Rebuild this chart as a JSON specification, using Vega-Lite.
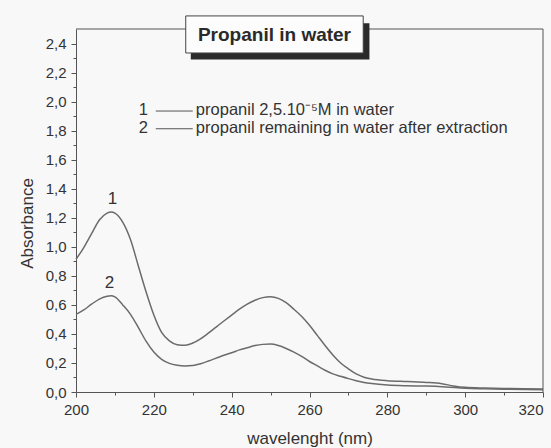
{
  "$schema": "https://vega.github.io/schema/vega-lite/v6.json",
  "width": 467,
  "height": 363,
  "autosize": {"type": "none"},
  "padding": {"left": 76, "top": 29, "right": 8, "bottom": 56},
  "background": "#f8f8f8",
  "resolve": {"axis": {"x": "independent", "y": "independent"}},
  "config": {
    "view": {"stroke": null},
    "font": "Liberation Sans",
    "locale": {"number": {"decimal": ",", "thousands": ".", "grouping": [3], "currency": ["", ""]}},
    "axis": {
      "labelOverlap": false, "labelBound": false, "labelFlush": false, "grid": false,
      "domainColor": "#555", "tickColor": "#555", "labelColor": "#333", "titleColor": "#333",
      "labelFontSize": 15, "labelPadding": 5, "titleFontSize": 17, "titleFontWeight": "normal"
    }
  },
  "datasets": {
    "spectra": [
      {"series": "1", "wavelength": 200, "absorbance": 0.914},
      {"series": "1", "wavelength": 202, "absorbance": 0.995},
      {"series": "1", "wavelength": 204, "absorbance": 1.09},
      {"series": "1", "wavelength": 206, "absorbance": 1.185},
      {"series": "1", "wavelength": 208, "absorbance": 1.232},
      {"series": "1", "wavelength": 209, "absorbance": 1.24},
      {"series": "1", "wavelength": 210, "absorbance": 1.232},
      {"series": "1", "wavelength": 212, "absorbance": 1.17},
      {"series": "1", "wavelength": 214, "absorbance": 1.05},
      {"series": "1", "wavelength": 216, "absorbance": 0.87},
      {"series": "1", "wavelength": 218, "absorbance": 0.69},
      {"series": "1", "wavelength": 220, "absorbance": 0.53},
      {"series": "1", "wavelength": 222, "absorbance": 0.41},
      {"series": "1", "wavelength": 224, "absorbance": 0.352},
      {"series": "1", "wavelength": 226, "absorbance": 0.326},
      {"series": "1", "wavelength": 228, "absorbance": 0.322},
      {"series": "1", "wavelength": 230, "absorbance": 0.337},
      {"series": "1", "wavelength": 232, "absorbance": 0.366},
      {"series": "1", "wavelength": 234, "absorbance": 0.405},
      {"series": "1", "wavelength": 236, "absorbance": 0.447},
      {"series": "1", "wavelength": 238, "absorbance": 0.489},
      {"series": "1", "wavelength": 240, "absorbance": 0.53},
      {"series": "1", "wavelength": 242, "absorbance": 0.57},
      {"series": "1", "wavelength": 244, "absorbance": 0.605},
      {"series": "1", "wavelength": 246, "absorbance": 0.632},
      {"series": "1", "wavelength": 248, "absorbance": 0.65},
      {"series": "1", "wavelength": 250, "absorbance": 0.656},
      {"series": "1", "wavelength": 252, "absorbance": 0.645},
      {"series": "1", "wavelength": 254, "absorbance": 0.615},
      {"series": "1", "wavelength": 256, "absorbance": 0.57},
      {"series": "1", "wavelength": 258, "absorbance": 0.52},
      {"series": "1", "wavelength": 260, "absorbance": 0.46},
      {"series": "1", "wavelength": 262, "absorbance": 0.39},
      {"series": "1", "wavelength": 264, "absorbance": 0.32},
      {"series": "1", "wavelength": 266, "absorbance": 0.255},
      {"series": "1", "wavelength": 268, "absorbance": 0.2},
      {"series": "1", "wavelength": 270, "absorbance": 0.16},
      {"series": "1", "wavelength": 272, "absorbance": 0.125},
      {"series": "1", "wavelength": 274, "absorbance": 0.102},
      {"series": "1", "wavelength": 276, "absorbance": 0.09},
      {"series": "1", "wavelength": 280, "absorbance": 0.078},
      {"series": "1", "wavelength": 285, "absorbance": 0.072},
      {"series": "1", "wavelength": 290, "absorbance": 0.066},
      {"series": "1", "wavelength": 294, "absorbance": 0.057},
      {"series": "1", "wavelength": 297, "absorbance": 0.042},
      {"series": "1", "wavelength": 300, "absorbance": 0.032},
      {"series": "1", "wavelength": 305, "absorbance": 0.027},
      {"series": "1", "wavelength": 310, "absorbance": 0.024},
      {"series": "1", "wavelength": 315, "absorbance": 0.022},
      {"series": "1", "wavelength": 320, "absorbance": 0.021},
      {"series": "2", "wavelength": 200, "absorbance": 0.535},
      {"series": "2", "wavelength": 202, "absorbance": 0.565},
      {"series": "2", "wavelength": 204, "absorbance": 0.605},
      {"series": "2", "wavelength": 206, "absorbance": 0.64},
      {"series": "2", "wavelength": 208, "absorbance": 0.66},
      {"series": "2", "wavelength": 209, "absorbance": 0.663},
      {"series": "2", "wavelength": 210, "absorbance": 0.655},
      {"series": "2", "wavelength": 212, "absorbance": 0.6},
      {"series": "2", "wavelength": 214, "absorbance": 0.535},
      {"series": "2", "wavelength": 216, "absorbance": 0.445},
      {"series": "2", "wavelength": 218, "absorbance": 0.35},
      {"series": "2", "wavelength": 220, "absorbance": 0.275},
      {"series": "2", "wavelength": 222, "absorbance": 0.225},
      {"series": "2", "wavelength": 224, "absorbance": 0.197},
      {"series": "2", "wavelength": 226, "absorbance": 0.184},
      {"series": "2", "wavelength": 228, "absorbance": 0.179},
      {"series": "2", "wavelength": 230, "absorbance": 0.182},
      {"series": "2", "wavelength": 232, "absorbance": 0.195},
      {"series": "2", "wavelength": 234, "absorbance": 0.213},
      {"series": "2", "wavelength": 236, "absorbance": 0.233},
      {"series": "2", "wavelength": 238, "absorbance": 0.253},
      {"series": "2", "wavelength": 240, "absorbance": 0.27},
      {"series": "2", "wavelength": 242, "absorbance": 0.29},
      {"series": "2", "wavelength": 244, "absorbance": 0.305},
      {"series": "2", "wavelength": 246, "absorbance": 0.32},
      {"series": "2", "wavelength": 248, "absorbance": 0.328},
      {"series": "2", "wavelength": 250, "absorbance": 0.33},
      {"series": "2", "wavelength": 252, "absorbance": 0.32},
      {"series": "2", "wavelength": 254, "absorbance": 0.3},
      {"series": "2", "wavelength": 256, "absorbance": 0.275},
      {"series": "2", "wavelength": 258, "absorbance": 0.245},
      {"series": "2", "wavelength": 260, "absorbance": 0.21},
      {"series": "2", "wavelength": 262, "absorbance": 0.18},
      {"series": "2", "wavelength": 264, "absorbance": 0.15},
      {"series": "2", "wavelength": 266, "absorbance": 0.125},
      {"series": "2", "wavelength": 268, "absorbance": 0.108},
      {"series": "2", "wavelength": 270, "absorbance": 0.092},
      {"series": "2", "wavelength": 272, "absorbance": 0.078},
      {"series": "2", "wavelength": 274, "absorbance": 0.066},
      {"series": "2", "wavelength": 276, "absorbance": 0.058},
      {"series": "2", "wavelength": 280, "absorbance": 0.048},
      {"series": "2", "wavelength": 285, "absorbance": 0.043},
      {"series": "2", "wavelength": 290, "absorbance": 0.041},
      {"series": "2", "wavelength": 295, "absorbance": 0.035},
      {"series": "2", "wavelength": 300, "absorbance": 0.026},
      {"series": "2", "wavelength": 305, "absorbance": 0.022},
      {"series": "2", "wavelength": 310, "absorbance": 0.019},
      {"series": "2", "wavelength": 320, "absorbance": 0.015}
    ]
  },
  "layer": [
    {
      "data": {"name": "spectra"},
      "mark": {"type": "line", "interpolate": "monotone", "color": "#6b6b6b", "strokeWidth": 1.5},
      "encoding": {
        "x": {
          "field": "wavelength", "type": "quantitative",
          "scale": {"domain": [200, 320], "nice": false, "zero": false},
          "axis": {
            "title": "wavelenght (nm)",
            "orient": "bottom",
            "values": [200, 210, 220, 230, 240, 250, 260, 270, 280, 290, 300, 310, 320],
            "labelOverlap": false,
            "labelExpr": "datum.value % 20 == 0 ? datum.label : ''",
            "labelAlign": {"condition": {"test": "datum.value == 320", "value": "right"}, "value": "center"},
            "tickSize": {"condition": {"test": "datum.value % 20 == 0", "value": 5}, "value": 3},
            "titleBaseline": "alphabetic", "titleY": 51
          }
        },
        "y": {
          "field": "absorbance", "type": "quantitative",
          "scale": {"domain": [0, 2.5], "nice": false},
          "axis": {
            "title": "Absorbance",
            "orient": "left",
            "format": ".1f",
            "values": [0, 0.1, 0.2, 0.3, 0.4, 0.5, 0.6, 0.7, 0.8, 0.9, 1, 1.1, 1.2, 1.3, 1.4, 1.5, 1.6, 1.7, 1.8, 1.9, 2, 2.1, 2.2, 2.3, 2.4],
            "labelOverlap": false,
            "labelExpr": "abs(round(datum.value * 10) % 2) < 0.5 ? datum.label : ''",
            "tickSize": {"condition": {"test": "abs(round(datum.value * 10) % 2) < 0.5", "value": 5}, "value": 3},
            "titleAngle": 270, "titleAlign": "center", "titleBaseline": "middle", "titleX": -49, "titleY": 194
          }
        },
        "detail": {"field": "series", "type": "nominal"}
      }
    },
    {
      "data": {"values": [{}]},
      "mark": {"type": "rule", "color": "#555", "strokeWidth": 1},
      "encoding": {
        "x": {"datum": 200, "type": "quantitative", "axis": null},
        "x2": {"datum": 320},
        "y": {"datum": 2.5, "type": "quantitative", "axis": null}
      }
    },
    {
      "data": {"values": [{}]},
      "mark": {"type": "rule", "color": "#555", "strokeWidth": 1},
      "encoding": {
        "x": {"datum": 320, "type": "quantitative", "axis": null},
        "y": {"datum": 0, "type": "quantitative", "axis": null},
        "y2": {"datum": 2.5}
      }
    },
    {
      "data": {"values": [{}]},
      "mark": {"type": "rect", "color": "#2a2a2a"},
      "encoding": {
        "x": {"datum": 229.5, "type": "quantitative", "axis": null},
        "x2": {"datum": 275.4},
        "y": {"datum": 2.29, "type": "quantitative", "axis": null},
        "y2": {"datum": 2.54}
      }
    },
    {
      "data": {"values": [{}]},
      "mark": {"type": "rect", "fill": "#fcfcfc", "stroke": "#444", "strokeWidth": 1},
      "encoding": {
        "x": {"datum": 228.2, "type": "quantitative", "axis": null},
        "x2": {"datum": 273.8},
        "y": {"datum": 2.335, "type": "quantitative", "axis": null},
        "y2": {"datum": 2.59}
      }
    },
    {
      "data": {"values": [{}]},
      "mark": {"type": "text", "text": "Propanil in water", "fontSize": 19, "fontWeight": "bold", "color": "#2a2a2a", "align": "center", "baseline": "middle"},
      "encoding": {
        "x": {"datum": 251, "type": "quantitative", "axis": null},
        "y": {"datum": 2.46, "type": "quantitative", "axis": null}
      }
    },
    {
      "data": {"values": [{}]},
      "mark": {"type": "text", "text": "1", "fontSize": 17, "color": "#333", "align": "center", "baseline": "middle"},
      "encoding": {
        "x": {"datum": 209.4, "type": "quantitative", "axis": null},
        "y": {"datum": 1.33, "type": "quantitative", "axis": null}
      }
    },
    {
      "data": {"values": [{}]},
      "mark": {"type": "text", "text": "2", "fontSize": 17, "color": "#333", "align": "center", "baseline": "middle"},
      "encoding": {
        "x": {"datum": 208.6, "type": "quantitative", "axis": null},
        "y": {"datum": 0.754, "type": "quantitative", "axis": null}
      }
    },
    {
      "data": {"values": [{}]},
      "mark": {"type": "text", "text": "1", "fontSize": 16.5, "color": "#333", "align": "center", "baseline": "middle"},
      "encoding": {
        "x": {"datum": 217.3, "type": "quantitative", "axis": null},
        "y": {"datum": 1.942, "type": "quantitative", "axis": null}
      }
    },
    {
      "data": {"values": [{}]},
      "mark": {"type": "text", "text": "2", "fontSize": 16.5, "color": "#333", "align": "center", "baseline": "middle"},
      "encoding": {
        "x": {"datum": 217.3, "type": "quantitative", "axis": null},
        "y": {"datum": 1.82, "type": "quantitative", "axis": null}
      }
    },
    {
      "data": {"values": [{}]},
      "mark": {"type": "rule", "color": "#555", "strokeWidth": 1},
      "encoding": {
        "x": {"datum": 220.5, "type": "quantitative", "axis": null},
        "x2": {"datum": 230},
        "y": {"datum": 1.935, "type": "quantitative", "axis": null}
      }
    },
    {
      "data": {"values": [{}]},
      "mark": {"type": "rule", "color": "#555", "strokeWidth": 1},
      "encoding": {
        "x": {"datum": 220.5, "type": "quantitative", "axis": null},
        "x2": {"datum": 230},
        "y": {"datum": 1.813, "type": "quantitative", "axis": null}
      }
    },
    {
      "data": {"values": [{}]},
      "mark": {"type": "text", "text": "propanil 2,5.10⁻⁵M in water", "fontSize": 16.5, "color": "#333", "align": "left", "baseline": "middle"},
      "encoding": {
        "x": {"datum": 230.8, "type": "quantitative", "axis": null},
        "y": {"datum": 1.942, "type": "quantitative", "axis": null}
      }
    },
    {
      "data": {"values": [{}]},
      "mark": {"type": "text", "text": "propanil remaining in water after extraction", "fontSize": 16.5, "color": "#333", "align": "left", "baseline": "middle"},
      "encoding": {
        "x": {"datum": 230.8, "type": "quantitative", "axis": null},
        "y": {"datum": 1.82, "type": "quantitative", "axis": null}
      }
    }
  ]
}
